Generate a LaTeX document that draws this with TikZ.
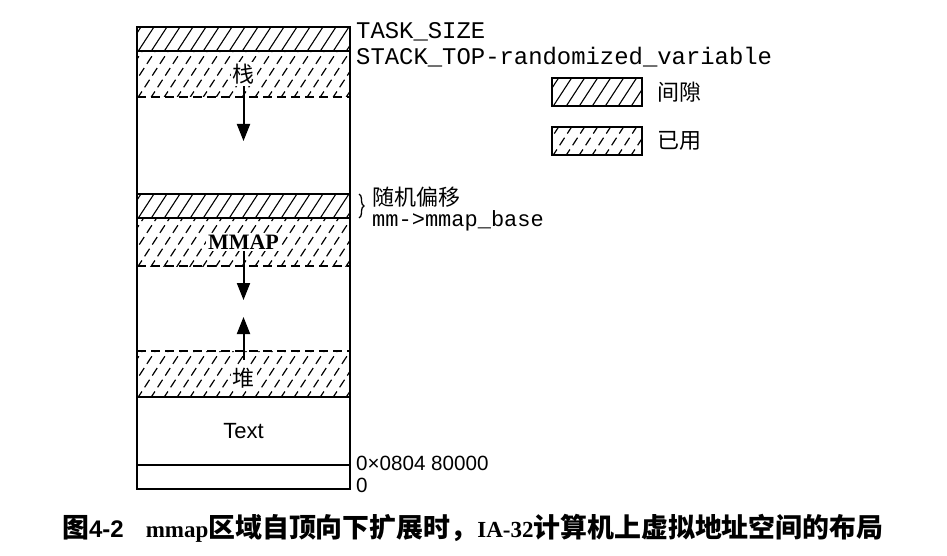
\documentclass[tikz,border=0pt]{standalone}
\usepackage{fontspec}
\setmainfont{Liberation Serif}
\setsansfont{Liberation Sans}
\setmonofont{Liberation Mono}
\newfontfamily\cjk{Noto Sans CJK SC}
\usetikzlibrary{arrows.meta,positioning,decorations.pathreplacing}

% slanted hatching inside a node
\newcommand\hatchlines[1]{%
  \foreach \k in {-5,...,18}
    \draw[#1] ([xshift=\k*13pt,yshift=-2pt]path picture bounding box.south west) -- ++(45pt,69pt);}

\begin{document}
\begin{tikzpicture}[x=1pt,y=-1pt,
  band/.style={inner sep=0pt,outer sep=0pt,minimum width=213pt},
  gapband/.style={band,path picture={\hatchlines{line width=1.1pt}}},
  usedband/.style={band,path picture={\hatchlines{line width=1.2pt,dash pattern=on 9pt off 5pt}}},
  border/.style={line width=1.8pt},
  sepline/.style={line width=1.5pt,dash pattern=on 9pt off 5pt},
  growarrow/.style={line width=2pt,-{Triangle[length=17pt,width=13pt]}},
  addr/.style={anchor=west,inner sep=0pt,font=\fontsize{23.9}{26}\selectfont\ttfamily},
  num/.style={anchor=west,inner sep=0pt,font=\fontsize{20.6}{22}\selectfont\sffamily},
  cn/.style={font=\fontsize{22}{24}\selectfont\cjk},
  lbl/.style={fill=white,inner sep=2pt}
]
\useasboundingbox (0,0) rectangle (947,556);

% address space, top to bottom
\node[gapband,minimum height=24pt] (gaptop) at (243.5,39) {};
\node[usedband,minimum height=46pt] (stack) at (243.5,74) {};
\node[gapband,minimum height=24pt] (gapmid) at (243.5,206) {};
\node[usedband,minimum height=48pt] (mmap) at (243.5,242) {};
\node[usedband,minimum height=46pt] (heap) at (243.5,374) {};
\node[band,minimum height=68pt,font=\fontsize{22}{24}\selectfont\sffamily] (text) at (243.5,431) {Text};
\node[band,minimum height=24pt] (bottom) at (243.5,477) {};

\node[cn,lbl] (stacklbl) at (stack) {栈};
\node[lbl,font=\fontsize{22}{24}\selectfont\bfseries] (mmaplbl) at (mmap) {MMAP};
\node[cn,lbl] (heaplbl) at ([yshift=-4pt]heap.center) {堆};

\draw[border] (gaptop.north west) rectangle (bottom.south east);
\draw[border] (gaptop.south west) -- (gaptop.south east);
\draw[border] (gapmid.north west) -- (gapmid.north east);
\draw[border] (gapmid.south west) -- (gapmid.south east);
\draw[border] (heap.south west) -- (heap.south east);
\draw[border] (text.south west) -- (text.south east);
\draw[sepline] (stack.south west) -- (stack.south east);
\draw[sepline] (mmap.south west) -- (mmap.south east);
\draw[sepline] (heap.north west) -- (heap.north east);

% growth directions
\coordinate (stacktip) at (243.5,141);
\coordinate (mmaptip) at (243.5,300);
\coordinate (heaptip) at (243.5,317);
\draw[growarrow] (stacklbl.south) -- (stacktip);
\draw[growarrow] (mmaplbl.south) -- (mmaptip);
\draw[growarrow] ([yshift=6pt]heaplbl.north) -- (heaptip);

% boundary labels
\node[addr] (tasksize) at ([xshift=6pt,yshift=-5pt]gaptop.north east) {TASK\_SIZE};
\node[addr] (stacktop) at ([xshift=6pt,yshift=-6pt]gaptop.south east) {STACK\_TOP-randomized\_variable};
\draw[line width=1.3pt,decorate,decoration={brace,amplitude=5pt}]
  ([xshift=9pt]gapmid.north east) -- ([xshift=9pt]gapmid.south east);
\node[cn,anchor=west,inner sep=0pt] (offset) at (372,197) {随机偏移};
\node[addr,font=\fontsize{22}{24}\selectfont\ttfamily] (mmapbase) at (372,221) {mm->mmap\_base};
\node[num] (textaddr) at ([xshift=6pt,yshift=2pt]text.south east) {0×0804 80000};
\node[num] (zero) at ([xshift=6pt,yshift=4pt]bottom.south east) {0};

% legend
\node[gapband,draw,line width=1.5pt,minimum width=90pt,minimum height=28pt] (keygap) at (597,92) {};
\node[usedband,draw,line width=1.5pt,minimum width=90pt,minimum height=28pt] (keyused) at (597,141) {};
\node[cn,anchor=west,inner sep=0pt] (keygaplbl) at ([xshift=15pt]keygap.east) {间隙};
\node[cn,anchor=west,inner sep=0pt] (keyusedlbl) at ([xshift=15pt]keyused.east) {已用};

% caption
\node[anchor=west,inner sep=0pt,font=\fontsize{23}{26}\selectfont] (caption) at (62,528)
  {{\fontsize{26.9}{28}\selectfont\cjk\bfseries 图}{\fontsize{24}{26}\selectfont\sffamily\bfseries 4-2}\hspace{22pt}{\bfseries mmap}%
   {\fontsize{26.9}{28}\selectfont\cjk\bfseries 区域自顶向下扩展时，}{\bfseries IA-32}%
   {\fontsize{26.9}{28}\selectfont\cjk\bfseries 计算机上虚拟地址空间的布局}};
\end{tikzpicture}
\end{document}
